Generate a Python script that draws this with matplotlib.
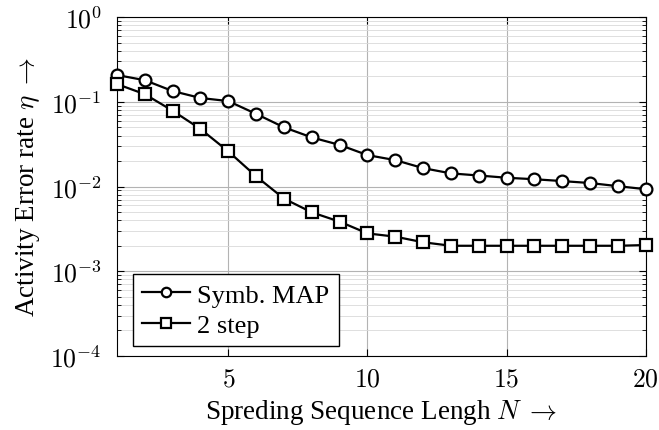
import numpy as np
import matplotlib
matplotlib.use("Agg")
from matplotlib import pyplot as plt
from matplotlib.ticker import LogLocator, NullFormatter, FuncFormatter

plt.rcParams['font.family'] = ['Liberation Serif', 'DejaVu Serif']
plt.rcParams['mathtext.fontset'] = 'cm'

N = list(range(1, 21))
symb_map = [0.207, 0.18, 0.134, 0.111, 0.102, 0.072, 0.050, 0.038, 0.031, 0.0235,
            0.0205, 0.0165, 0.0143, 0.0135, 0.0127, 0.0122, 0.0116, 0.011, 0.0101, 0.0093]
two_step = [0.162, 0.123, 0.0785, 0.0478, 0.026, 0.0132, 0.0072, 0.00496, 0.00385, 0.0028,
            0.00256, 0.0022, 0.0020, 0.0020, 0.0020, 0.0020, 0.0020, 0.0020, 0.0020, 0.00204]

fig = plt.figure(figsize=(6.59, 4.31), dpi=100)
ax = fig.add_axes([0.1775, 0.1717, 0.8025, 0.7863])

ax.plot(N, symb_map, '-o', color='black', lw=1.6, ms=8.5, mfc='white', mew=1.6,
        label='Symb. MAP', zorder=3, clip_on=False)
ax.plot(N, two_step, '-s', color='black', lw=1.6, ms=8.5, mfc='white', mew=1.6,
        label='2 step', zorder=3, clip_on=False)

ax.set_yscale('log')
ax.set_xlim(1, 20)
ax.set_ylim(1e-4, 1)
ax.set_xticks([5, 10, 15, 20])
ax.xaxis.set_major_formatter(FuncFormatter(lambda v, p: r'$%d$' % v))
ax.yaxis.set_major_locator(LogLocator(base=10, numticks=10))
ax.yaxis.set_major_formatter(FuncFormatter(lambda v, p: r'$10^{%d}$' % round(np.log10(v))))
ax.yaxis.set_minor_locator(LogLocator(base=10, subs=np.arange(2, 10), numticks=20))
ax.yaxis.set_minor_formatter(NullFormatter())

ax.grid(True, which='major', color='#b3b3b3', lw=0.8)
ax.grid(True, which='minor', axis='y', color='#d9d9d9', lw=0.6)
ax.set_axisbelow(True)

ax.tick_params(which='both', direction='in', top=True, right=True, labelsize=18.5)
ax.tick_params(which='major', length=5)
ax.tick_params(which='minor', length=3)
ax.tick_params(axis='y', which='major', pad=11)
ax.tick_params(axis='x', which='major', pad=9)
for s in ax.spines.values():
    s.set_linewidth(0.8)

ax.set_xlabel(r'Spreding Sequence Lengh $N$ $\rightarrow$', fontsize=19.5, labelpad=5)
ax.set_ylabel(r'Activity Error rate $\eta$ $\rightarrow$', fontsize=19.5, labelpad=6)

leg = ax.legend(loc='lower left', bbox_to_anchor=(0.03, 0.0295), borderaxespad=0,
                fontsize=19, fancybox=False, framealpha=1, edgecolor='black',
                handlelength=1.8, handletextpad=0.3, borderpad=0.35,
                labelspacing=0.25, markerscale=0.8)
leg.get_frame().set_linewidth(1.0)

fig.savefig('out.png', dpi=100)
